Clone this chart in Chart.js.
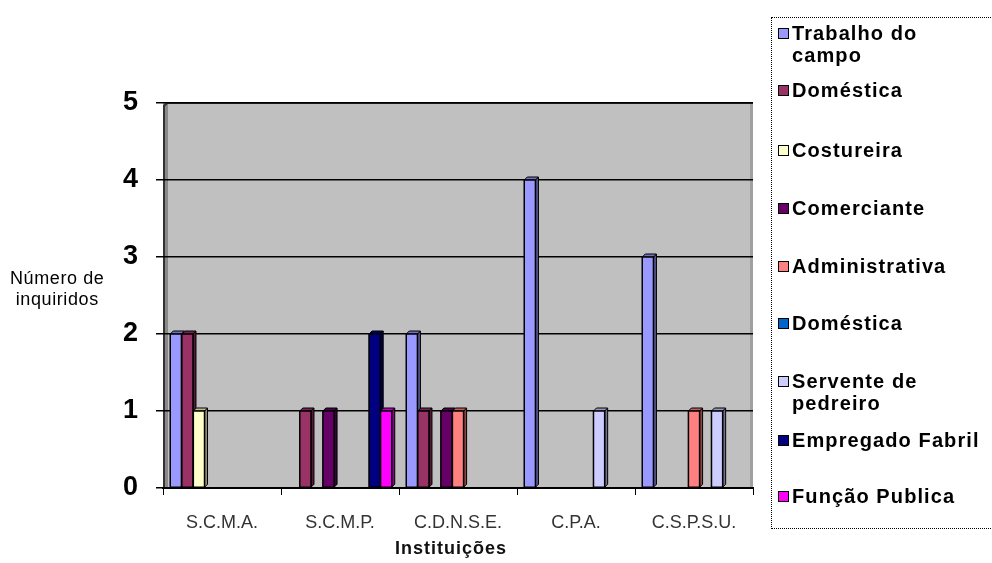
<!DOCTYPE html>
<html>
<head>
<meta charset="utf-8">
<script src="https://cdn.jsdelivr.net/npm/chart.js@4.4.1/dist/chart.umd.min.js"></script>
<style>
    body { margin: 0; background: #fff; }
    #wrap { position: relative; width: 992px; height: 563px; font-family: "Liberation Sans", Arial, sans-serif; overflow: hidden; }
    #chart { position: absolute; left: 0; top: 0; }
    #yTitle { position: absolute; left: 10px; top: 268px; font-size: 18px; line-height: 21px; letter-spacing: 0.6px; text-align: center; color: #000; }
    #xTitle { position: absolute; left: 395px; top: 538px; font-size: 18px; font-weight: bold; letter-spacing: 1px; color: #111; }
    #legend { position: absolute; left: 771px; top: 17px; width: 230px; height: 512px; border: 1px dotted #000; box-sizing: border-box; }
    .item { position: absolute; left: 6px; font-size: 20px; font-weight: bold; line-height: 22px; letter-spacing: 1.1px; color: #000; display: flex; white-space: nowrap; }
    .box { width: 9px; height: 9px; border: 1px solid #000; margin-top: 6px; margin-right: 3px; flex: none; }
</style>
</head>
<body>
<div id="wrap">
    <canvas id="chart" width="992" height="563"></canvas>
    <div id="yTitle">Número de<br>inquiridos</div>
    <div id="xTitle">Instituições</div>
    <div id="legend"></div>
</div>
<script>
const categories = ['S.C.M.A.', 'S.C.M.P.', 'C.D.N.S.E.', 'C.P.A.', 'C.S.P.S.U.'];
const seriesNames = ['Trabalho do campo', 'Doméstica', 'Costureira', 'Comerciante', 'Administrativa',
    'Doméstica', 'Servente de pedreiro', 'Empregado Fabril', 'Função Publica'];
const seriesColors = ['#9999FF', '#993366', '#FFFFCC', '#660066', '#FF8080',
    '#0066CC', '#CCCCFF', '#000080', '#FF00FF'];

const trabalhoCampo = [2, 0, 2, 4, 3];
const domestica = [2, 1, 1, 0, 0];
const costureira = [1, 0, 0, 0, 0];
const comerciante = [0, 1, 1, 0, 0];
const administrativa = [0, 0, 1, 0, 1];
const domestica2 = [0, 0, 0, 0, 0];
const serventePedreiro = [0, 0, 0, 1, 1];
const empregadoFabril = [0, 2, 0, 0, 0];
const funcaoPublica = [0, 1, 0, 0, 0];

const seriesValues = [trabalhoCampo, domestica, costureira, comerciante, administrativa,
    domestica2, serventePedreiro, empregadoFabril, funcaoPublica];
const yTicks = [0, 1, 2, 3, 4, 5];

// legend rows, wrapped like the original
const legendLines = [['Trabalho do', 'campo'], ['Doméstica'], ['Costureira'], ['Comerciante'], ['Administrativa'],
    ['Doméstica'], ['Servente de', 'pedreiro'], ['Empregado Fabril'], ['Função Publica']];
const legendTops = [4, 61, 121, 179, 237, 294, 352, 411, 467];
document.getElementById('legend').innerHTML = legendLines.map((lines, i) => `
    <div class="item" style="top:${legendTops[i]}px">
        <div class="box" style="background:${seriesColors[i]}"></div>
        <div>${lines.join('<br>')}</div>
    </div>`).join('');

function shade(hex, f) {
    const n = parseInt(hex.slice(1), 16);
    const r = Math.round(((n >> 16) & 255) * f), g = Math.round(((n >> 8) & 255) * f), b = Math.round((n & 255) * f);
    return `rgb(${r},${g},${b})`;
}

const wallPlugin = {
    id: 'wall',
    beforeDraw(chart) {
        const { ctx, chartArea: a } = chart;
        ctx.save();
        ctx.fillStyle = '#C0C0C0';
        ctx.fillRect(a.left, a.top, a.right - a.left, a.bottom - a.top);
        ctx.fillStyle = '#8a8a8a';
        ctx.fillRect(a.left, a.top, 5, a.bottom - a.top);
        ctx.fillStyle = '#a0a0a0';
        ctx.fillRect(a.right - 3, a.top, 3, a.bottom - a.top);
        ctx.strokeStyle = '#333';
        ctx.lineWidth = 2;
        ctx.beginPath();
        ctx.moveTo(a.left + 1, a.bottom); ctx.lineTo(a.left + 1, a.top + 3); ctx.lineTo(a.left + 4, a.top);
        ctx.lineTo(a.right, a.top);
        ctx.stroke();
        ctx.restore();
    }
};

// redraw bars left to right with a small 3D side and top face
const depthPlugin = {
    id: 'depth',
    afterDatasetsDraw(chart) {
        const { ctx } = chart;
        const d = 3;
        const bars = [];
        chart.data.datasets.forEach((ds, i) => {
            chart.getDatasetMeta(i).data.forEach((bar, j) => {
                if (ds.data[j]) bars.push({ bar, color: seriesColors[i] });
            });
        });
        bars.sort((a, b) => a.bar.x - b.bar.x);
        ctx.save();
        ctx.strokeStyle = '#000';
        ctx.lineWidth = 1;
        bars.forEach(({ bar, color }) => {
            const x1 = bar.x - bar.width / 2, x2 = bar.x + bar.width / 2;
            ctx.fillStyle = shade(color, 0.55);
            ctx.beginPath();
            ctx.moveTo(x2, bar.y); ctx.lineTo(x2 + d, bar.y - d); ctx.lineTo(x2 + d, bar.base - d); ctx.lineTo(x2, bar.base);
            ctx.closePath(); ctx.fill(); ctx.stroke();
            ctx.fillStyle = shade(color, 0.75);
            ctx.beginPath();
            ctx.moveTo(x1, bar.y); ctx.lineTo(x1 + d, bar.y - d); ctx.lineTo(x2 + d, bar.y - d); ctx.lineTo(x2, bar.y);
            ctx.closePath(); ctx.fill(); ctx.stroke();
            ctx.fillStyle = color;
            ctx.fillRect(x1, bar.y, bar.width, bar.base - bar.y);
            ctx.lineWidth = 1.5;
            ctx.strokeRect(x1, bar.y, bar.width, bar.base - bar.y);
            ctx.lineWidth = 1;
        });
        ctx.restore();
    }
};

new Chart(document.getElementById('chart'), {
    type: 'bar',
    data: {
        labels: categories,
        datasets: seriesValues.map((vals, i) => ({
            label: seriesNames[i],
            data: vals,
            backgroundColor: seriesColors[i],
            borderColor: '#000',
            borderWidth: 1,
            categoryPercentage: 0.88,
            barPercentage: 0.97
        }))
    },
    options: {
        responsive: false,
        animation: false,
        devicePixelRatio: 1,
        layout: { padding: { top: 103, right: 239, left: 0, bottom: 0 } },
        plugins: { legend: { display: false }, tooltip: { enabled: false } },
        scales: {
            x: {
                afterFit: (s) => { s.height = 75; },
                grid: { drawOnChartArea: false, drawTicks: true, tickLength: 7, color: '#000', offset: true },
                border: { color: '#000', width: 2 },
                ticks: { color: '#333', padding: 17, font: { family: 'Liberation Sans', size: 18 } }
            },
            y: {
                min: 0, max: 5,
                afterFit: (s) => { s.width = 163; },
                afterBuildTicks: (s) => { s.ticks = yTicks.map(v => ({ value: v })); },
                grid: { color: '#000', lineWidth: 1.5, tickLength: 7 },
                border: { display: false },
                ticks: { color: '#000', padding: 18, font: { family: 'Liberation Sans', size: 27, weight: 'bold' } }
            }
        }
    },
    plugins: [wallPlugin, depthPlugin]
});
</script>
</body>
</html>
